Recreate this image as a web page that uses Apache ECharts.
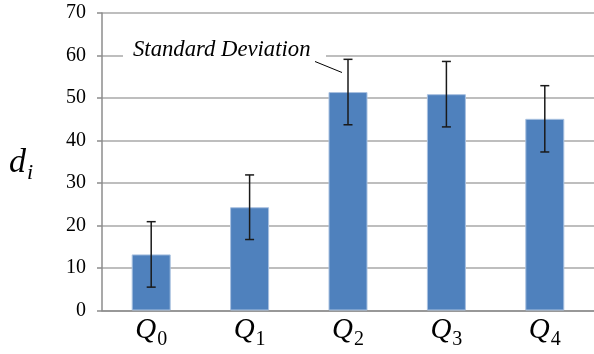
<!DOCTYPE html>
<html><head><meta charset="utf-8">
<script src="https://cdn.jsdelivr.net/npm/echarts@6/dist/echarts.min.js"></script>
<style>html,body{margin:0;padding:0;background:#fff}#c{width:594px;height:354px}</style>
</head><body><div id="c"></div>
<script>
const categories = ['0', '1', '2', '3', '4'];
const means = [13.2, 24.3, 51.4, 50.9, 45.1];
const stdDevs = [7.7, 7.6, 7.7, 7.7, 7.8];
const yTicks = [0, 10, 20, 30, 40, 50, 60, 70];

const chart = echarts.init(document.getElementById('c'), null, {renderer: 'canvas'});
const serif = "'Liberation Serif', 'Times New Roman', Times, 'DejaVu Serif', serif";
const errData = means.map((m, i) => [i, m - stdDevs[i], m + stdDevs[i]]);

chart.setOption({
  animation: false,
  textStyle: {fontFamily: serif},
  grid: {left: 102, right: -2, top: 13, bottom: 43.5},
  xAxis: {
    type: 'category', data: categories,
    axisTick: {show: false},
    axisLine: {lineStyle: {color: '#8c8c8c', width: 1.5}},
    axisLabel: {
      margin: 5,
      fontFamily: serif,
      formatter: v => '{q|Q}{s|' + v + '}',
      rich: {
        q: {fontFamily: serif, fontStyle: 'italic', fontSize: 29, color: '#000', verticalAlign: 'bottom', padding: [0, 0, 5, 0]},
        s: {fontFamily: serif, fontSize: 20, color: '#000', verticalAlign: 'bottom', padding: [0, 0, 0, 1]}
      }
    }
  },
  yAxis: {
    type: 'value', min: 0, max: 70, interval: 10,
    axisLine: {show: true, lineStyle: {color: '#8c8c8c', width: 1.5}},
    axisTick: {show: true, length: 5, lineStyle: {color: '#8c8c8c', width: 1.5}},
    splitLine: {lineStyle: {color: '#a8a8a8', width: 1.5}},
    axisLabel: {
      margin: 16,
      fontFamily: serif, fontSize: 20, color: '#000',
      formatter: v => yTicks.includes(v) ? String(v) : ''
    }
  },
  graphic: [
    {type: 'text', left: 9, top: 146,
     style: {text: '{d|d}{i|i}', fontFamily: serif, rich: {
       d: {fontFamily: serif, fontStyle: 'italic', fontSize: 34, fill: '#000', verticalAlign: 'bottom', padding: [0, 0, 4, 0]},
       i: {fontFamily: serif, fontStyle: 'italic', fontSize: 22, fill: '#000', verticalAlign: 'bottom', padding: [0, 0, 0, 1]}
     }}},
    {type: 'rect', shape: {x: 123, y: 40, width: 203, height: 26}, style: {fill: '#fff'}, z: 5},
    {type: 'text', left: 133, top: 39, z: 6,
     style: {text: 'Standard Deviation', fontFamily: serif, fontStyle: 'italic', fontSize: 22.7, fill: '#000'}},
    {type: 'line', shape: {x1: 315, y1: 61.5, x2: 342, y2: 72.5}, style: {stroke: '#000', lineWidth: 1}, z: 6}
  ],
  series: [
    {
      type: 'bar', data: means, barWidth: 39,
      itemStyle: {color: '#4f81bd', borderColor: '#a9c1e0', borderWidth: 1}
    },
    {
      type: 'custom', data: errData, z: 10,
      renderItem: (params, api) => {
        const x = api.value(0);
        const lo = api.coord([x, api.value(1)]);
        const hi = api.coord([x, api.value(2)]);
        const cap = 4.5;
        const st = {stroke: '#1a1a1a', lineWidth: 1.5};
        return {type: 'group', children: [
          {type: 'line', shape: {x1: lo[0], y1: lo[1], x2: hi[0], y2: hi[1]}, style: st},
          {type: 'line', shape: {x1: lo[0] - cap, y1: lo[1], x2: lo[0] + cap, y2: lo[1]}, style: st},
          {type: 'line', shape: {x1: hi[0] - cap, y1: hi[1], x2: hi[0] + cap, y2: hi[1]}, style: st}
        ]};
      }
    }
  ]
});
</script></body></html>
